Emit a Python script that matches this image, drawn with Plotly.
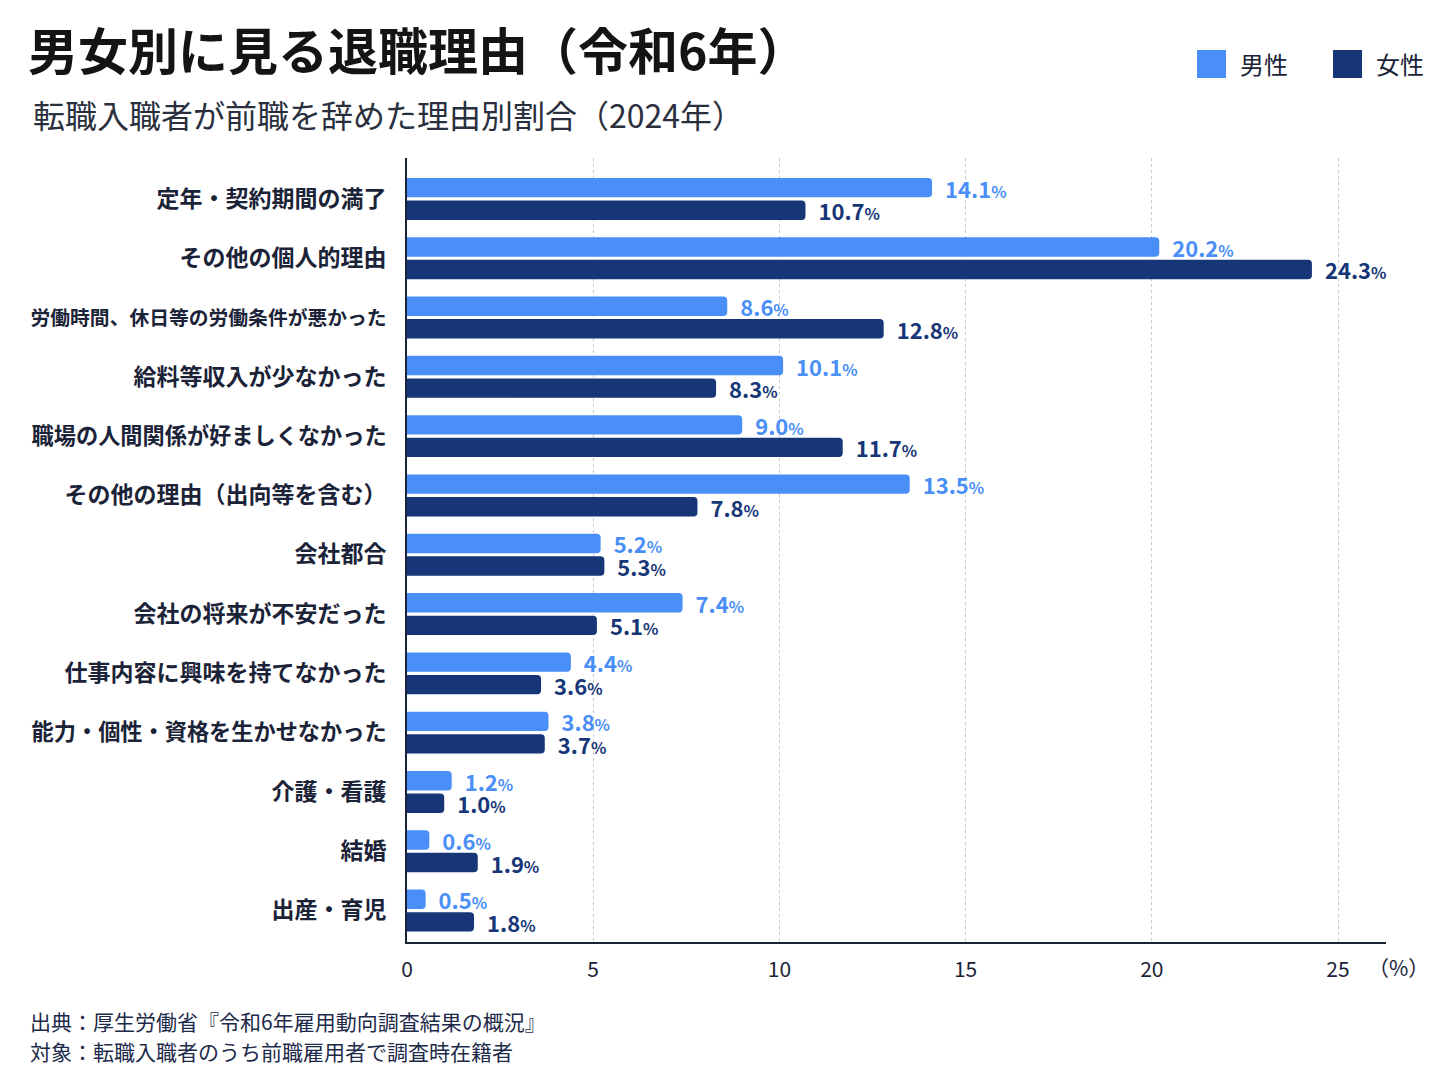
import plotly.graph_objects as go

# data
categories = [
    "定年・契約期間の満了",
    "その他の個人的理由",
    "労働時間、休日等の労働条件が悪かった",
    "給料等収入が少なかった",
    "職場の人間関係が好ましくなかった",
    "その他の理由（出向等を含む）",
    "会社都合",
    "会社の将来が不安だった",
    "仕事内容に興味を持てなかった",
    "能力・個性・資格を生かせなかった",
    "介護・看護",
    "結婚",
    "出産・育児",
]
male = [14.1, 20.2, 8.6, 10.1, 9.0, 13.5, 5.2, 7.4, 4.4, 3.8, 1.2, 0.6, 0.5]
female = [10.7, 24.3, 12.8, 8.3, 11.7, 7.8, 5.3, 5.1, 3.6, 3.7, 1.0, 1.9, 1.8]
x_ticks = [0, 5, 10, 15, 20, 25]

MALE_COLOR = "#4a8ff7"
FEMALE_COLOR = "#163677"
TEXT_COLOR = "#1b2338"
FONT = "Noto Sans CJK JP"

# the page body has an 8px margin, so lay out in page pixels minus that
OFF = 8
W, H = 1448 - OFF, 1086 - OFF
L, R, T, B = 407 - OFF, 1386 - OFF, 158 - OFF, 942 - OFF


def paper(x, y):
    # page pixel position -> paper coords
    return (x - OFF - L) / (R - L), (B - (y - OFF)) / (B - T)


# long labels are shrunk to fit the space left of the axis
def tick_label(name):
    size = min(23, 356 / len(name))
    return '<span style="font-size:%.1fpx">%s</span>' % (size, name)


label_tpl = '\u00a0\u00a0%{x:.1f}<span style="font-size:16px">%</span>'

fig = go.Figure()
fig.add_trace(go.Bar(
    y=categories, x=male, name="男性", orientation="h",
    marker=dict(color=MALE_COLOR, line=dict(width=0)),
    texttemplate=label_tpl, textposition="outside", cliponaxis=False,
    constraintext="none",
    textfont=dict(family=FONT, size=22, color=MALE_COLOR, weight=700),
    hoverinfo="skip",
))
fig.add_trace(go.Bar(
    y=categories, x=female, name="女性", orientation="h",
    marker=dict(color=FEMALE_COLOR, line=dict(width=0)),
    texttemplate=label_tpl, textposition="outside", cliponaxis=False,
    constraintext="none",
    textfont=dict(family=FONT, size=22, color=FEMALE_COLOR, weight=700),
    hoverinfo="skip",
))

x_max = 25 * (R - L) / (1338 - 407)

fig.update_layout(
    template="none",
    width=W, height=H,
    margin=dict(l=L, r=W - R, t=T, b=H - B, autoexpand=False),
    paper_bgcolor="white", plot_bgcolor="white",
    barmode="group", bargap=0.24, bargroupgap=0.14, barcornerradius=4,
    showlegend=False,
    font=dict(family=FONT, color=TEXT_COLOR),
    title=dict(
        text="男女別に見る退職理由（令和6年）",
        x=(28 - OFF) / W, xanchor="left", y=1 - (52 - OFF) / H, yanchor="middle",
        font=dict(family=FONT, size=50, color="#141414", weight=700),
    ),
    xaxis=dict(
        range=[0, x_max], tickvals=x_ticks,
        tickfont=dict(family=FONT, size=21, color=TEXT_COLOR),
        showgrid=True, gridcolor="#c8c8c8", griddash="dot", gridwidth=1,
        showline=True, linecolor=TEXT_COLOR, linewidth=2,
        zeroline=False, ticks="", ticklabelstandoff=8, automargin=False,
    ),
    yaxis=dict(
        type="category", range=[12.53, -0.69],
        tickvals=categories, ticktext=[tick_label(c) for c in categories],
        tickfont=dict(family=FONT, size=22, color=TEXT_COLOR, weight=700),
        showgrid=False, showline=True, linecolor=TEXT_COLOR, linewidth=2,
        zeroline=False, ticks="", ticklabelstandoff=14, automargin=False,
    ),
)

annotations = []
sx, sy = paper(31, 114)
annotations.append(dict(
    text="転職入職者が前職を辞めた理由別割合（2024年）",
    x=sx, y=sy, xref="paper", yref="paper", xanchor="left", yanchor="middle",
    showarrow=False, font=dict(family=FONT, size=32, color="#2a2f3d"),
))
px, py = paper(1366, 967)
annotations.append(dict(
    text="（%）", x=px, y=py, xref="paper", yref="paper",
    xanchor="left", yanchor="middle", showarrow=False,
    font=dict(family=FONT, size=21, color=TEXT_COLOR),
))
for line_y, line_text in [(1021, "出典：厚生労働省『令和6年雇用動向調査結果の概況』"),
                          (1051, "対象：転職入職者のうち前職雇用者で調査時在籍者")]:
    fx, fy = paper(28, line_y)
    annotations.append(dict(
        text=line_text, x=fx, y=fy, xref="paper", yref="paper",
        xanchor="left", yanchor="middle", showarrow=False,
        font=dict(family=FONT, size=21, color="#1d2a4a"),
    ))

# legend drawn by hand so the swatches can be large
shapes = []
for (x0, label, color) in [(1197, "男性", MALE_COLOR), (1333, "女性", FEMALE_COLOR)]:
    ax0, ay0 = paper(x0, 78)
    ax1, ay1 = paper(x0 + 29, 50)
    shapes.append(dict(
        type="rect", xref="paper", yref="paper", x0=ax0, y0=ay0, x1=ax1, y1=ay1,
        fillcolor=color, line=dict(width=0), layer="above",
    ))
    tx, ty = paper(x0 + 41, 64)
    annotations.append(dict(
        text=label, x=tx, y=ty, xref="paper", yref="paper",
        xanchor="left", yanchor="middle", showarrow=False,
        font=dict(family=FONT, size=24, color=TEXT_COLOR),
    ))

fig.update_layout(annotations=annotations, shapes=shapes)

fig.write_html("out.html")
